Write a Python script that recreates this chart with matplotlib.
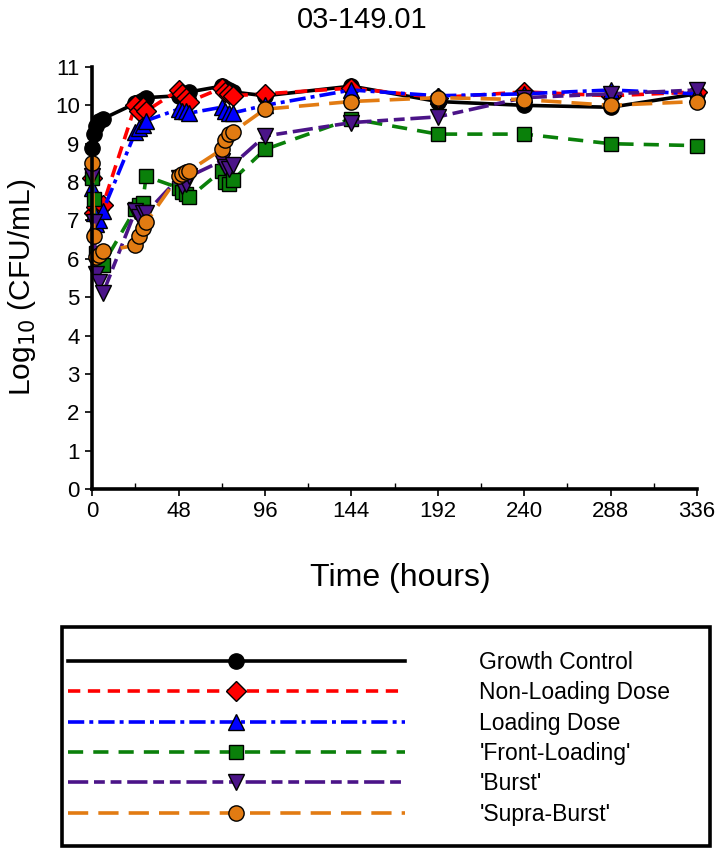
import matplotlib
matplotlib.use("Agg")
import matplotlib.pyplot as plt
from matplotlib.patches import Rectangle

plt.rcParams['font.family'] = ['Liberation Sans', 'DejaVu Sans']

# ---- data ----
times = [0, 1, 2, 4, 6, 24, 26, 28, 30, 48, 50, 52, 54, 72, 74, 76, 78, 96, 144, 192, 240, 288, 336]

growth_control = [8.9, 9.25, 9.45, 9.6, 9.65, 10.05, 10.1, 10.15, 10.2, 10.25, 10.3, 10.3, 10.35,
                  10.5, 10.45, 10.4, 10.35, 10.25, 10.5, 10.1, 10.0, 9.95, 10.3]
non_loading = [8.1, 7.2, 7.35, 7.3, 7.4, 10.0, 9.85, 9.95, 9.85, 10.4, 10.3, 10.2, 10.1,
               10.45, 10.35, 10.3, 10.25, 10.3, 10.45, 10.2, 10.35, 10.25, 10.35]
loading = [7.85, 7.2, 6.9, 7.0, 7.25, 9.3, 9.4, 9.5, 9.6, 9.9, 9.85, 9.85, 9.8,
           9.95, 9.85, 9.8, 9.8, 10.0, 10.4, 10.25, 10.3, 10.4, 10.3]
front_loading = [8.1, 7.55, 6.15, 5.9, 5.85, 7.3, 7.4, 7.45, 8.15, 7.85, 7.75, 7.7, 7.6,
                 8.3, 8.0, 7.95, 8.05, 8.85, 9.65, 9.25, 9.25, 9.0, 8.95]
burst = [8.15, 6.95, 5.6, 5.4, 5.1, 7.25, 7.1, 7.2, 7.2, 8.1, 7.9, 7.95, 8.15,
         8.55, 8.4, 8.35, 8.45, 9.2, 9.55, 9.7, 10.2, 10.3, 10.4]
supra_burst = [8.5, 6.6, 6.05, 6.1, 6.2, 6.35, 6.6, 6.8, 6.95, 8.15, 8.2, 8.25, 8.3,
               8.85, 9.1, 9.25, 9.3, 9.9, 10.1, 10.2, 10.15, 10.0, 10.1]

labels = ["Growth Control", "Non-Loading Dose", "Loading Dose",
          "'Front-Loading'", "'Burst'", "'Supra-Burst'"]
xticks = [0, 48, 96, 144, 192, 240, 288, 336]
yticks = list(range(0, 12))

series = [growth_control, non_loading, loading, front_loading, burst, supra_burst]
styles = [
    dict(color='#000000', marker='o', ms=11, ls='-'),
    dict(color='#FF0000', marker='D', ms=10, ls=(0, (3.4, 2.1))),
    dict(color='#0000FF', marker='^', ms=11, ls=(0, (4.5, 1.4, 1.1, 1.4))),
    dict(color='#0A800A', marker='s', ms=10, ls=(0, (4.2, 2.8))),
    dict(color='#4B1488', marker='v', ms=11, ls=(0, (5.6, 1.6, 3.0, 1.6, 3.0, 1.6))),
    dict(color='#E27B12', marker='o', ms=11, ls=(0, (5.6, 2.8))),
]

fig = plt.figure(figsize=(7.2, 8.51), dpi=100)
ax = fig.add_axes([0.128, 0.4254, 0.840, 0.4959])

handles = []
for vals, st, lab in zip(series, styles, labels):
    h, = ax.plot(times, vals, color=st['color'], ls=st['ls'], lw=2.6,
                 marker=st['marker'], ms=st['ms'], mfc=st['color'], mec='black',
                 mew=1.0, clip_on=False, label=lab)
    handles.append(h)

ax.set_xlim(0, 336)
ax.set_ylim(0, 11)
ax.set_xticks(xticks)
ax.set_xticks([24, 72, 120, 168, 216, 264, 312], minor=True)
ax.set_yticks(yticks)
ax.tick_params(axis='both', which='major', direction='out', length=5, width=1.2,
               labelsize=16, pad=4)
ax.tick_params(axis='x', which='minor', direction='in', length=4, width=1.0)
for s in ['top', 'right']:
    ax.spines[s].set_visible(False)
for s in ['left', 'bottom']:
    ax.spines[s].set_linewidth(2.6)

fig.text(400 / 720, 1 - 578 / 851, "Time (hours)", fontsize=23, ha='center', va='center')
fig.text(22 / 720, 1 - 287 / 851, "Log$_{10}$ (CFU/mL)", fontsize=21.5, ha='center',
         va='center', rotation=90)
fig.text(362 / 720, 1 - 20 / 851, "03-149.01", fontsize=21, ha='center', va='center')

# legend box
fig.patches.append(Rectangle((62 / 720, 1 - 846 / 851), (710 - 62) / 720, (846 - 627) / 851,
                             transform=fig.transFigure, fill=False, ec='black', lw=2.6))
leg = fig.legend(handles=handles, labels=labels, loc='upper left',
                 bbox_to_anchor=(68 / 720, 1 - 651 / 851), frameon=False,
                 fontsize=16.5, handlelength=14.7, handletextpad=3.25,
                 labelspacing=0.32, numpoints=1, borderaxespad=0, borderpad=0)

fig.savefig("out.png", dpi=100)
